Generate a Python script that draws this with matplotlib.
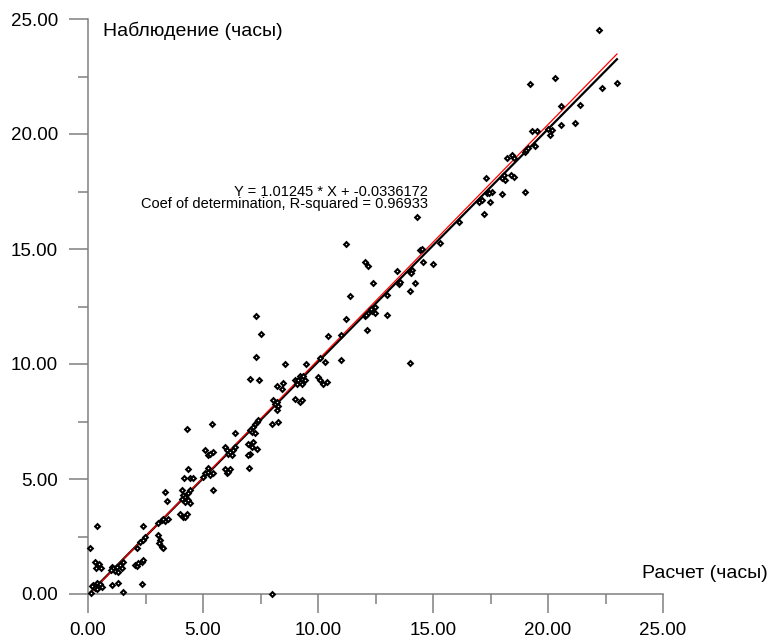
import matplotlib
matplotlib.use("Agg")
import matplotlib.pyplot as plt
from matplotlib.ticker import MultipleLocator, FormatStrFormatter

plt.rcParams['font.family'] = ['Liberation Sans', 'DejaVu Sans']

# Calculated (x) vs observed (y) hours
x_calc = [
    0.09, 0.38, 0.30, 0.35, 0.49, 0.55, 0.23, 0.38, 0.45, 0.30, 0.16, 0.52, 0.41, 0.60, 0.15,
    1.03, 1.10, 1.25, 1.17, 1.39, 1.46, 1.32, 1.54, 0.99, 1.03, 1.32, 1.51,
    2.04, 2.12, 2.19, 2.33, 2.41, 2.33, 2.12, 2.26, 2.41, 2.48, 2.38,
    3.06, 3.13, 3.10, 3.20, 3.28, 3.06, 3.20, 3.35, 3.49, 3.28, 3.35, 3.45,
    4.00, 4.15, 4.29, 4.22, 4.07, 4.15, 4.22, 4.29, 4.36, 4.43, 4.22, 4.36, 4.43, 4.07,
    4.33, 4.19, 4.43, 4.58, 4.29,
    5.01, 5.09, 5.23, 5.30, 5.45, 5.45, 5.09, 5.23, 5.45, 5.32, 5.23, 5.38,
    5.96, 6.03, 6.10, 6.17, 6.32, 6.25, 6.39, 5.96, 6.03, 6.10, 6.17, 6.39, 7.00,
    6.97, 7.19, 7.12, 7.33, 7.04, 6.97, 7.04, 7.19, 7.26, 7.33, 7.12, 7.26, 7.41,
    7.30, 7.51, 7.30, 7.04, 7.45, 8.00,
    7.98, 8.27, 8.06, 8.13, 8.23, 8.27, 8.20, 8.20, 8.42, 8.46, 8.57,
    9.00, 9.22, 9.29, 9.00, 9.14, 9.22, 9.29, 9.36, 9.43, 9.07, 9.29, 9.46,
    10.00, 10.09, 10.23, 10.38, 10.09, 10.30, 10.45, 11.00, 11.00, 11.20,
    11.22, 12.04, 12.16, 12.14, 11.39, 12.35, 12.47, 12.30, 12.04, 12.17, 12.10, 12.48,
    13.01, 13.01, 12.40, 13.50, 13.56, 13.42, 14.00, 14.10, 14.05, 14.22, 14.00, 14.00,
    14.29, 14.43, 14.50, 14.58, 15.01, 15.30, 16.14,
    17.01, 17.12, 17.48, 17.22, 17.36, 17.55, 17.45, 18.01, 19.01, 17.30,
    17.99, 18.10, 18.15, 18.40, 18.50, 18.20, 18.45, 18.50,
    19.00, 19.05, 19.13, 19.43, 19.29, 19.50, 20.00, 20.16, 20.10,
    20.57, 21.16, 20.57, 21.40, 19.22, 20.30, 22.33, 23.01, 22.22,
]
y_obs = [
    1.98, 2.95, 1.40, 1.11, 1.30, 1.15, 0.39, 0.46, 0.32, 0.25, 0.35, 0.42, 0.20, 0.32, 0.05,
    1.18, 1.11, 1.18, 1.01, 1.25, 1.11, 0.97, 1.40, 1.04, 0.39, 0.46, 0.10,
    1.26, 1.21, 1.33, 1.40, 1.50, 0.44, 1.98, 2.27, 2.34, 2.49, 2.95,
    2.56, 2.34, 2.20, 2.05, 1.98, 3.09, 3.21, 3.17, 3.24, 3.28, 4.44, 4.04,
    3.50, 3.35, 3.50, 3.33, 4.51, 4.30, 4.23, 4.15, 4.37, 4.51, 4.01, 4.08, 3.94, 4.15,
    5.45, 5.05, 5.05, 5.05, 7.16,
    5.09, 5.24, 5.31, 5.16, 5.24, 4.51, 6.25, 6.03, 6.18, 6.10, 5.50, 7.38,
    6.39, 6.25, 6.10, 6.18, 6.25, 6.03, 6.39, 5.45, 5.24, 5.31, 5.45, 7.02, 5.46,
    6.54, 6.61, 6.40, 6.32, 6.10, 6.03, 7.12, 7.26, 7.40, 7.48, 7.05, 6.98, 7.55,
    12.07, 11.31, 10.30, 9.36, 9.32, 0.00,
    7.38, 7.46, 8.42, 8.28, 8.35, 8.16, 8.00, 9.03, 8.93, 9.18, 9.98,
    8.49, 8.35, 8.45, 9.29, 9.32, 9.50, 9.36, 9.46, 9.29, 9.11, 9.14, 9.98,
    9.43, 9.32, 9.14, 9.22, 10.27, 10.08, 11.20, 11.27, 10.16, 11.97,
    15.22, 14.42, 14.28, 11.46, 12.95, 12.30, 12.50, 12.40, 12.10, 12.20, 12.15, 12.21,
    12.98, 12.15, 13.51, 13.50, 13.55, 14.03, 13.98, 14.10, 13.95, 13.51, 13.16, 10.04,
    16.38, 14.97, 15.02, 14.42, 14.35, 15.25, 16.16,
    17.06, 17.13, 17.03, 16.52, 17.43, 17.50, 17.45, 17.39, 17.50, 18.10,
    18.10, 18.20, 18.00, 18.20, 18.15, 18.97, 19.10, 18.95,
    19.20, 19.30, 19.40, 19.46, 20.14, 20.14, 20.21, 20.17, 19.95,
    21.21, 20.46, 20.40, 21.25, 22.16, 22.45, 22.02, 22.21, 24.51,
]

# Fitted lines: black = regression, red = reference line
fit_slope, fit_icpt = 1.01245, -0.0336172
red_slope, red_icpt = 1.0235, -0.06
line_x = [0.1, 23.0]

eq_text = "Y = 1.01245 * X + -0.0336172"
r2_text = "Coef of determination, R-squared = 0.96933"
x_label = "Расчет (часы)"
y_label = "Наблюдение (часы)"

fig = plt.figure(figsize=(7.71, 6.41), dpi=100)
ax = fig.add_axes([88/771, 1 - 594/641, 575/771, 575/641])

ax.plot(line_x, [fit_slope * v + fit_icpt for v in line_x], color='black', lw=1.6, zorder=2)
ax.plot(line_x, [red_slope * v + red_icpt for v in line_x], color='#ff0000', lw=0.9, zorder=3)
ax.plot(x_calc, y_obs, linestyle='none', marker='D', ms=2.4, mfc='white', mec='black',
        mew=1.5, clip_on=False, zorder=4)

ax.set_xlim(0, 25)
ax.set_ylim(0, 25)
for s in ['top', 'right']:
    ax.spines[s].set_visible(False)
for s in ['left', 'bottom']:
    ax.spines[s].set_color('#808080')
    ax.spines[s].set_linewidth(1.1)

ax.xaxis.set_major_locator(MultipleLocator(5))
ax.xaxis.set_minor_locator(MultipleLocator(2.5))
ax.yaxis.set_major_locator(MultipleLocator(5))
ax.yaxis.set_minor_locator(MultipleLocator(2.5))
ax.xaxis.set_major_formatter(FormatStrFormatter('%.2f'))
ax.yaxis.set_major_formatter(FormatStrFormatter('%.2f'))
ax.tick_params(which='major', length=14, width=1.1, color='#808080', labelsize=13.5,
               direction='out')
ax.tick_params(which='minor', length=7, width=1.1, color='#808080', direction='out')
ax.tick_params(axis='y', which='major', pad=7.5)
ax.tick_params(axis='x', which='major', pad=6.5)

fig.text(103/771, 1 - 31/641, y_label, fontsize=14, ha='left', va='center')
fig.text(768/771, 1 - 573/641, x_label, fontsize=14, ha='right', va='center')
fig.text(428/771, 1 - 208/641, eq_text + "\n" + r2_text, fontsize=10.5, ha='right',
         va='baseline', multialignment='right', linespacing=0.82)

fig.savefig('out.png', dpi=100)
